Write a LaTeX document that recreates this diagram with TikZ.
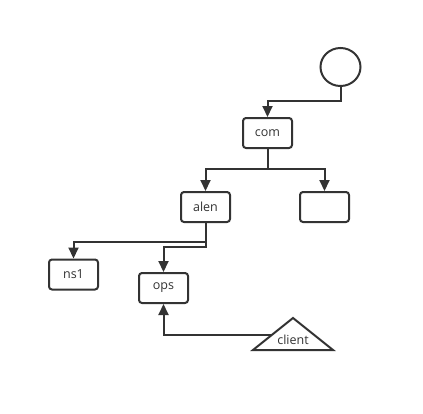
\documentclass[tikz,border=0pt]{standalone}
\usepackage{fontspec}
\setmainfont{Open Sans}
\usetikzlibrary{arrows.meta,shapes.geometric}
\definecolor{ink}{HTML}{333333}
\tikzset{
  box/.style={draw=ink, line width=2pt, rounded corners=3pt, minimum width=49pt, minimum height=30pt, inner sep=0pt, text=ink, font=\fontsize{12.5}{14}\selectfont, fill=white},
  arr/.style={draw=ink, line width=2pt, -{Triangle[length=11pt,width=10pt]}},
}
\begin{document}
\begin{tikzpicture}[x=1pt,y=-1pt]
\useasboundingbox (0,0) rectangle (423,413);
\node[draw=ink, line width=2pt, ellipse, minimum width=40pt, minimum height=38pt, inner sep=0pt] (root) at (340.5,67) {};
\node[box] (com) at (267.5,133) {com};
\node[box] (alen) at (205.5,207) {alen};
\node[box] (blank) at (324.5,207) {};
\node[box] (ns1) at (73.5,274.5) {ns1};
\node[box] (ops) at (163.5,288) {ops};
\draw[draw=ink, line width=2pt, line join=miter, fill=white] (293,318) -- (333,350) -- (253,350) -- cycle;
\node[text=ink, font=\fontsize{12.5}{14}\selectfont, inner sep=0pt] (client) at (293,339.5) {client};
\coordinate (cl) at (272,335);
\draw[arr] (root.south) -- ++(0,14) -| (com.north);
\draw[arr] (com.south) -- ++(0,20) -| (alen.north);
\draw[arr] (com.south) -- ++(0,20) -| (blank.north);
\draw[arr] (alen.south) -- ++(0,19) -| (ns1.north);
\draw[arr] (alen.south) -- ++(0,24) -| (ops.north);
\draw[arr] (cl) -| (ops.south);
\end{tikzpicture}
\end{document}
